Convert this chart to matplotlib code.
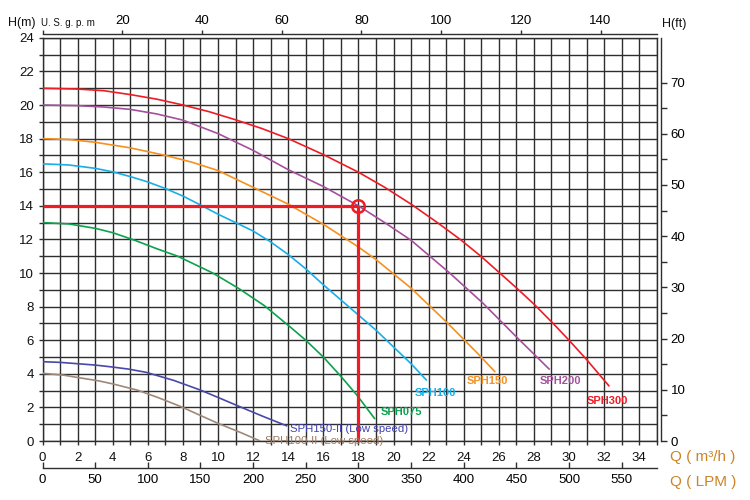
import matplotlib

matplotlib.use("Agg")
import matplotlib.pyplot as plt
from matplotlib.ticker import FixedLocator

plt.rcParams["font.family"] = ["Liberation Sans", "DejaVu Sans"]

# pump curves, Q in m3/h, H in m
q_sph300 = [0, 2, 3.5, 5, 6.5, 8, 9.5, 11, 12.5, 14, 16, 18, 19.5, 21, 22.5, 23.8, 25, 26, 27, 28, 29, 30, 31, 32.3]
h_sph300 = [21, 20.95, 20.85, 20.62, 20.35, 20.0, 19.6, 19.12, 18.6, 18.0, 17.05, 16.0, 15.1, 14.1, 13.0, 12.0, 10.98, 10.05, 9.12, 8.15, 7.1, 6.0, 4.85, 3.25]

q_sph200 = [0, 2, 3.5, 5, 6.5, 8, 10, 12, 14, 16, 18, 19.5, 21, 23.2, 25.1, 27, 28.9]
h_sph200 = [20, 19.96, 19.88, 19.74, 19.47, 19.1, 18.3, 17.3, 16.15, 15.15, 14.0, 13.0, 11.95, 10.0, 8.2, 6.2, 4.25]

q_sph150 = [0, 1.5, 3, 5, 7, 8.5, 10, 12, 14, 16, 18, 19.0, 21, 23.1, 24.9, 25.8]
h_sph150 = [18, 17.95, 17.78, 17.45, 17.0, 16.6, 16.1, 15.1, 14.1, 12.9, 11.55, 10.8, 9.1, 7.0, 5.1, 4.1]

q_sph100 = [0, 1.5, 3, 4, 5, 6, 7, 8, 9, 10, 11.1, 12, 13, 14, 15, 16, 17, 18, 19, 19.8, 21, 21.9]
h_sph100 = [16.5, 16.43, 16.23, 16.02, 15.74, 15.42, 15.03, 14.58, 14.05, 13.5, 12.95, 12.5, 11.85, 11.1, 10.25, 9.3, 8.4, 7.5, 6.6, 5.8, 4.6, 3.6]

q_sph075 = [0, 1.5, 3, 4, 5.25, 6.5, 7.7, 9.7, 11.15, 12.65, 14.1, 15.0, 16.0, 17.0, 17.9, 18.95]
h_sph075 = [13, 12.92, 12.66, 12.4, 11.95, 11.45, 11.0, 10.0, 9.1, 8.05, 6.8, 6.0, 5.0, 3.85, 2.75, 1.3]

q_sph150_ii = [0, 1, 2, 3, 3.85, 4.9, 5.9, 7.5, 9.0, 10.1, 11.25, 12.6, 13.95]
h_sph150_ii = [4.72, 4.68, 4.6, 4.52, 4.42, 4.28, 4.09, 3.6, 3.03, 2.55, 2.04, 1.45, 0.89]

q_sph100_ii = [0, 1.2, 2.3, 3.2, 4, 5.4, 6.6, 7.9, 9.0, 10.0, 11.3, 12.4]
h_sph100_ii = [4.03, 3.92, 3.73, 3.58, 3.4, 3.03, 2.58, 2.04, 1.52, 1.05, 0.5, 0.0]

curve_names = ["SPH300", "SPH200", "SPH150", "SPH100", "SPH075",
               "SPH150-II (Low speed)", "SPH100-II (Low speed)"]
curve_colors = ["#ee1c25", "#a4509c", "#f7901e", "#18aee8", "#0ca24c",
                "#4848a8", "#a08878"]
label_colors = ["#ee1c25", "#a4509c", "#f7901e", "#18aee8", "#0ca24c",
                "#4040b0", "#a07a60"]

# duty point
duty_q = 18
duty_h = 14

gpm_ticks = [0, 20, 40, 60, 80, 100, 120, 140]
ft_ticks = [0, 10, 20, 30, 40, 50, 60, 70]
lpm_ticks = [0, 50, 100, 150, 200, 250, 300, 350, 400, 450, 500, 550]

GRID = "#2e2e2e"
QCOL = "#cc8428"


def q_to_gpm(q):
    return q * 1000 / 60 / 3.785411784


def gpm_to_q(g):
    return g * 60 * 3.785411784 / 1000


def q_to_lpm(q):
    return q * 1000 / 60


def lpm_to_q(l):
    return l * 60 / 1000


def m_to_ft(h):
    return h * 3.28084


def ft_to_m(f):
    return f / 3.28084


W, H = 750, 500
fig = plt.figure(figsize=(7.5, 5), dpi=100)
x0, x1, y_bot, y_top = 42.5, 656.75, 441.0, 37.8
ax = fig.add_axes([x0 / W, 1 - y_bot / H, (x1 - x0) / W, (y_bot - y_top) / H])
ax.set_xlim(0, 35)
ax.set_ylim(0, 24)

ax.set_xticks(range(0, 35, 2))
ax.xaxis.set_minor_locator(FixedLocator(range(0, 36)))
ax.set_yticks(range(0, 25, 2))
ax.yaxis.set_minor_locator(FixedLocator(range(0, 25)))
ax.grid(True, which="both", color=GRID, linewidth=1.0)
ax.set_axisbelow(True)
for sp in ax.spines.values():
    sp.set_color(GRID)
    sp.set_linewidth(1.0)
ax.tick_params(which="both", direction="out", length=3, width=1.0, color=GRID,
               labelsize=9.5, labelcolor="#111111")
ax.tick_params(axis="x", which="both", pad=5)
ax.tick_params(axis="y", which="both", pad=3)

all_q = [q_sph300, q_sph200, q_sph150, q_sph100, q_sph075, q_sph150_ii, q_sph100_ii]
all_h = [h_sph300, h_sph200, h_sph150, h_sph100, h_sph075, h_sph150_ii, h_sph100_ii]
for q, h, c in zip(all_q, all_h, curve_colors):
    ax.plot(q, h, color=c, linewidth=1.2, zorder=3, solid_capstyle="butt",
            solid_joinstyle="round")

# operating point lines
ax.plot([0, duty_q], [duty_h, duty_h], color="#ee1c25", linewidth=2.3, zorder=4,
        solid_capstyle="butt")
ax.plot([duty_q, duty_q], [duty_h, 0], color="#ee1c25", linewidth=2.3, zorder=4,
        solid_capstyle="butt")
ax.plot([duty_q], [duty_h], marker="o", markersize=9, markerfacecolor="none",
        markeredgecolor="#ee1c25", markeredgewidth=1.8, zorder=5)

# curve labels
label_pos = [(31.0, 2.4), (28.35, 3.57), (24.2, 3.57), (21.2, 2.86), (19.25, 1.73),
             (14.1, 0.71), (12.7, 0.02)]
for i, (name, (lq, lh)) in enumerate(zip(curve_names, label_pos)):
    bold = i < 5
    ax.text(lq, lh, name, color=label_colors[i], fontsize=8.2 if not bold else 8,
            fontweight="bold" if bold else "normal", ha="left", va="center",
            clip_on=False, zorder=6)

# top U.S. gpm axis
top = ax.secondary_xaxis(1 + 4 / 403.2, functions=(q_to_gpm, gpm_to_q))
top.set_xticks(gpm_ticks, labels=[""] + [str(t) for t in gpm_ticks[1:]])
top.tick_params(direction="out", length=3, width=1.0, color=GRID, labelsize=9.5, pad=2)
for sp in top.spines.values():
    sp.set_color(GRID)
    sp.set_linewidth(1.0)

# right H(ft) axis
right = ax.secondary_yaxis(1 + 4 / 614.25, functions=(m_to_ft, ft_to_m))
right.set_yticks(ft_ticks)
right.yaxis.set_minor_locator(FixedLocator([5, 15, 25, 35, 45, 55, 65]))
right.tick_params(which="both", direction="out", length=4, width=1.0, color=GRID,
                  labelsize=9.5, pad=3)
for sp in right.spines.values():
    sp.set_color(GRID)
    sp.set_linewidth(1.0)

# bottom LPM axis
lpm = ax.secondary_xaxis(-27 / 403.2, functions=(q_to_lpm, lpm_to_q))
lpm.set_xticks(lpm_ticks)
lpm.tick_params(direction="in", length=4, width=1.0, color=GRID, labelsize=9.5, pad=4)
for sp in lpm.spines.values():
    sp.set_color(GRID)
    sp.set_linewidth(1.0)

# axis names
fig.text(8 / W, 1 - 23 / H, "H(m)", fontsize=9, va="center", ha="left", color="#111111")
fig.text(41 / W, 1 - 23 / H, "U. S. g. p. m", fontsize=7, va="center", ha="left",
         color="#111111")
fig.text(662 / W, 1 - 24 / H, "H(ft)", fontsize=9, va="center", ha="left", color="#111111")
fig.text(670 / W, 1 - 457 / H, "Q ( m\u00b3/h )", fontsize=11, va="center", ha="left",
         color=QCOL)
fig.text(670 / W, 1 - 482 / H, "Q ( LPM )", fontsize=11, va="center", ha="left",
         color=QCOL)

fig.savefig("out.png", dpi=100)
